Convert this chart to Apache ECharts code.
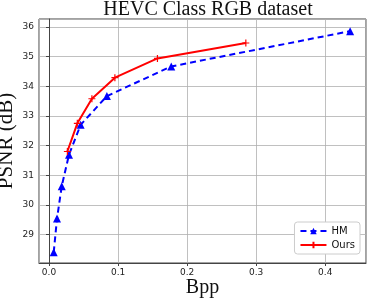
<!DOCTYPE html>
<html><head><meta charset="utf-8">
<script src="https://cdn.jsdelivr.net/npm/echarts@6/dist/echarts.min.js"></script>
<style>html,body{margin:0;padding:0;background:#fff}#c{width:370px;height:298px}</style>
</head><body><div id="c"></div>
<script>
const hmBpp  = [0.0068, 0.0116, 0.0184, 0.0289, 0.0458, 0.0838, 0.177, 0.436];
const hmPsnr = [28.40, 29.54, 30.63, 31.69, 32.70, 33.67, 34.67, 35.86];
const oursBpp  = [0.0266, 0.041, 0.0621, 0.0954, 0.157, 0.285];
const oursPsnr = [31.80, 32.75, 33.58, 34.29, 34.94, 35.46];
const titleText = 'HEVC Class RGB dataset';
const xName = 'Bpp';
const yName = 'PSNR (dB)';

const chart = echarts.init(document.getElementById('c'));
const serif = '"Liberation Serif", "DejaVu Serif", serif';
const sans = '"DejaVu Sans", sans-serif';
chart.setOption({
  animation: false,
  title: { text: titleText, left: 203, textAlign: 'center', top: -5,
    textStyle: { fontFamily: serif, fontSize: 20, fontWeight: 'normal', color: '#111' } },
  grid: { left: 39, right: 4, top: 19, bottom: 35, show: true, borderColor: '#444', borderWidth: 1,
    outerBoundsMode: 'none', containLabel: false },
  xAxis: {
    type: 'value', min: -0.0145, max: 0.459, splitNumber: 5,
    name: xName, nameLocation: 'middle', nameGap: 15, nameMoveOverlap: false,
    nameTextStyle: { fontFamily: serif, fontSize: 20, color: '#111' },
    axisLine: { show: true, lineStyle: { color: '#444' } },
    axisTick: { show: true, length: 3, lineStyle: { color: '#444' } },
    axisLabel: { showMinLabel: false, showMaxLabel: false, fontFamily: sans, fontSize: 9, color: '#222', margin: 5,
      formatter: v => v.toFixed(1) },
    splitLine: { show: true, lineStyle: { color: '#b0b0b0', width: 0.8 } }
  },
  yAxis: {
    type: 'value', min: 28.04, max: 36.27, splitNumber: 8,
    name: yName, nameLocation: 'middle', nameGap: 22, nameMoveOverlap: false,
    nameTextStyle: { fontFamily: serif, fontSize: 21, color: '#111' },
    axisLine: { show: true, lineStyle: { color: '#444' } },
    axisTick: { show: true, length: 3, lineStyle: { color: '#444' } },
    axisLabel: { showMinLabel: false, showMaxLabel: false, fontFamily: sans, fontSize: 9, color: '#222', margin: 5,
      formatter: v => String(Math.round(v)) },
    splitLine: { show: true, lineStyle: { color: '#b0b0b0', width: 0.8 } }
  },
  legend: {
    right: 10, top: 222, orient: 'vertical',
    backgroundColor: '#fff', borderColor: '#ccc', borderWidth: 1, borderRadius: 3,
    padding: [4, 5, 4, 5], itemGap: 4, itemWidth: 26, itemHeight: 8,
    textStyle: { fontFamily: sans, fontSize: 10, color: '#111' },
    data: ['HM', 'Ours']
  },
  series: [
    { name: 'HM', type: 'line', data: hmBpp.map((x, i) => [x, hmPsnr[i]]),
      symbol: 'triangle', symbolSize: 8,
      itemStyle: { color: '#0000ff' },
      lineStyle: { color: '#0000ff', width: 2, type: [6, 4] } },
    { name: 'Ours', type: 'line', data: oursBpp.map((x, i) => [x, oursPsnr[i]]),
      symbol: 'path://M0,-5 L0,5 M-5,0 L5,0', symbolSize: 7,
      itemStyle: { color: '#ff0000', borderColor: '#ff0000', borderWidth: 1.2 },
      lineStyle: { color: '#ff0000', width: 2 } }
  ]
});
</script></body></html>
